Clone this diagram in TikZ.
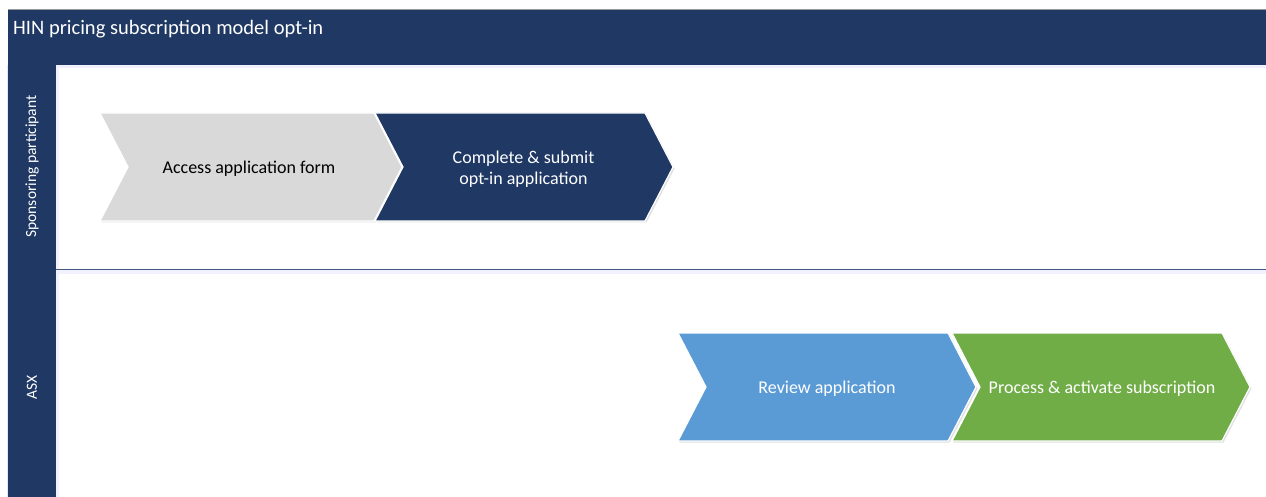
\documentclass[tikz,border=0pt]{standalone}
\usepackage{fontspec}
\setmainfont{Carlito}
\definecolor{navy}{HTML}{1F3864}
\definecolor{chgray}{HTML}{D9D9D9}
\definecolor{chblue}{HTML}{5B9BD5}
\definecolor{chgreen}{HTML}{70AD47}
\definecolor{sepc}{HTML}{44587F}
\newcommand\chevpath[5]{% x0 y0 w h d
  (#1,#2) -- ({#1+#3},#2) -- ({#1+#3+#5},{#2+#4/2}) -- ({#1+#3},{#2+#4}) -- (#1,{#2+#4}) -- ({#1+#5},{#2+#4/2}) -- cycle}
\begin{document}
\begin{tikzpicture}[x=1pt,y=-1pt,
  chevshadow/.style={fill=black!12},
  chevbody/.style={draw=white, line width=1.2pt, line join=miter},
  steptext/.style={font=\fontsize{18}{21}\selectfont, align=center, inner sep=0pt},
  lanetext/.style={font=\fontsize{15.5}{18}\selectfont, text=white, rotate=90, inner sep=0pt}]
\useasboundingbox (0,0) rectangle (1266,497);
\fill[white] (0,0) rectangle (1266,497);
% header
\draw[black!40, line width=0.8pt] (8,9.6) -- (1266,9.6);
\fill[navy] (8,10) rectangle (1266,65);
\fill[blue!6] (56,65) rectangle (1266,68);
\node[anchor=west, text=white, font=\fontsize{20.5}{24}\selectfont, inner sep=0pt] (title) at (13,29) {HIN pricing subscription model opt-in};
% lane bar
\fill[navy] (8,65) rectangle (56,497);
\draw[blue!10, line width=0.8pt] (7.6,65) -- (7.6,497);
\fill[blue!5] (56,68) rectangle (58.5,497);
% separator
\fill[blue!5] (56,270) rectangle (1266,274);
\draw[sepc, line width=1.8pt] (56,269.5) -- (1266,269.5);
\node[lanetext] (lane1) at (32,166.5) {Sponsoring participant};
\node[lanetext] (lane2) at (32,387.5) {ASX};
% chevrons lane 1
\fill[chevshadow] \chevpath{101.5}{114.5}{274}{108}{28};
\fill[chgray, chevbody] \chevpath{100}{113}{274}{108}{28};
\fill[chevshadow] \chevpath{376.5}{114.5}{270}{108}{28};
\fill[navy, chevbody] \chevpath{375}{113}{270}{108}{28};
\node[steptext, text=black] (s1) at (249,169) {Access application form};
\node[steptext, text=white] (s2) at (523.5,169) {Complete \& submit\\opt-in application};
% chevrons lane 2
\fill[chevshadow] \chevpath{679.5}{334.5}{270}{108}{28};
\fill[chblue, chevbody] \chevpath{678}{333}{270}{108}{28};
\fill[chevshadow] \chevpath{953.5}{334.5}{270}{108}{28};
\fill[chgreen, chevbody] \chevpath{952}{333}{270}{108}{28};
\node[steptext, text=white] (s3) at (827,389) {Review application};
\node[steptext, text=white] (s4) at (1102,389) {Process \& activate subscription};
\end{tikzpicture}
\end{document}
